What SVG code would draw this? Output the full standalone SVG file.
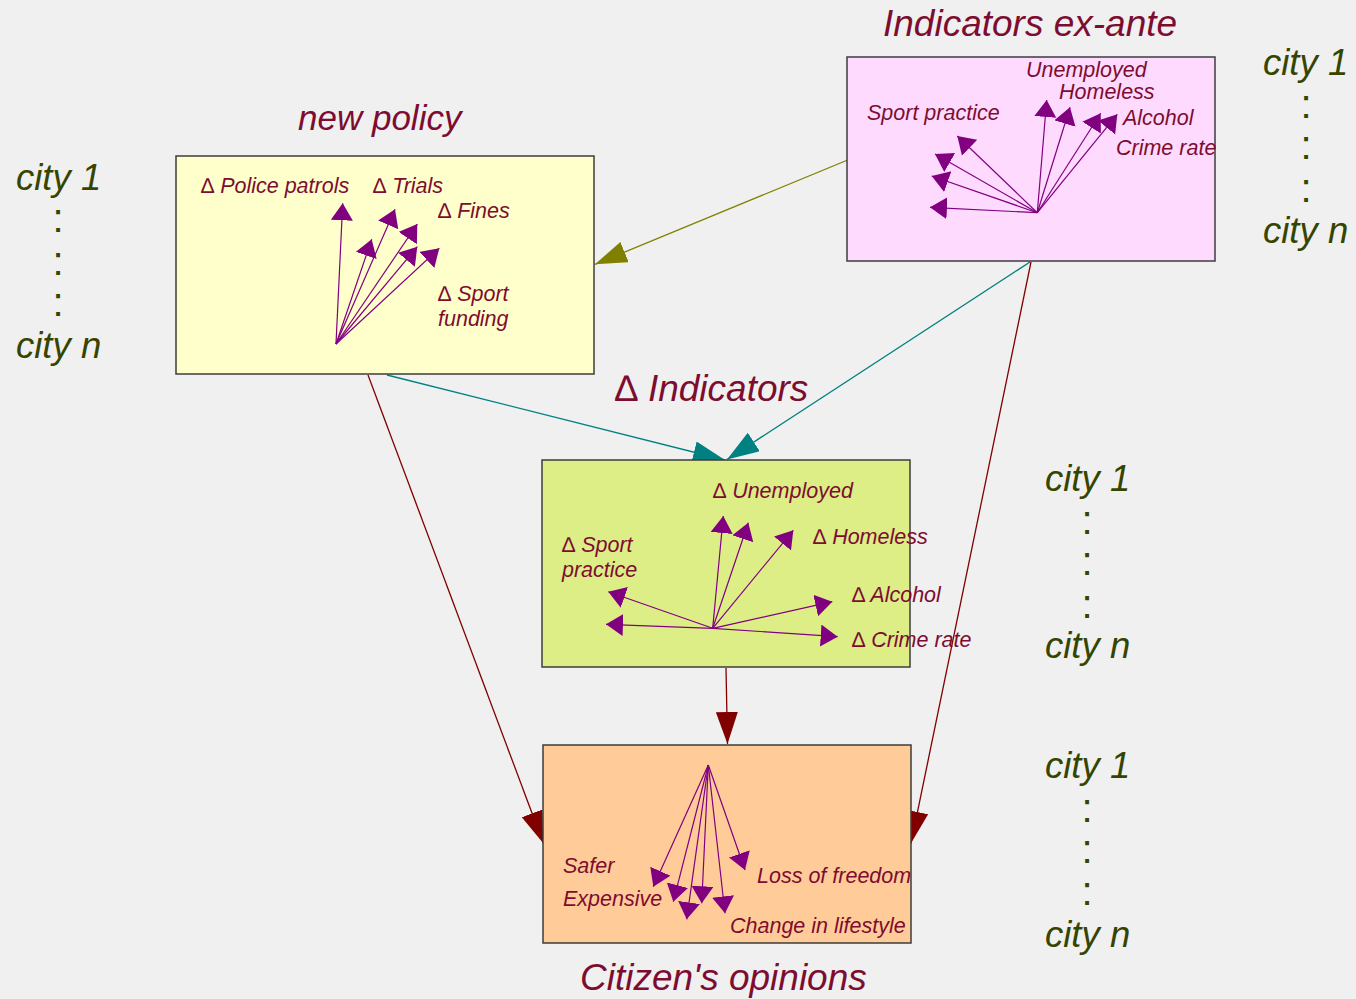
<svg xmlns="http://www.w3.org/2000/svg" width="1356" height="999" viewBox="0 0 1356 999">
<defs>
<style>
.box{stroke:#3c3c3c;stroke-width:1.5}
.title{font-family:"Liberation Sans",Arial,sans-serif;font-style:italic;font-size:37px;fill:#7d0d30}
.lbl{font-family:"Liberation Sans",Arial,sans-serif;font-style:italic;font-size:21.5px;fill:#7d0d30}
.city{font-family:"Liberation Sans",Arial,sans-serif;font-style:italic;font-size:36.5px;fill:#354500}
.dots{font-family:"Liberation Sans",Arial,sans-serif;font-size:40px;fill:#354500}
.up{font-style:normal}
.v{stroke:#800080;stroke-width:1.2;fill:none;marker-end:url(#mp)}
.c{fill:none;stroke-width:1.3}
</style>
<marker id="mp" markerUnits="userSpaceOnUse" markerWidth="20" markerHeight="24" refX="17" refY="11" orient="auto"><path d="M0,0 L17,11 L0,22 z" fill="#800080"/></marker>
<marker id="mo" markerUnits="userSpaceOnUse" markerWidth="34" markerHeight="24" refX="32" refY="11" orient="auto"><path d="M0,0 L32,11 L0,22 z" fill="#808000"/></marker>
<marker id="mt" markerUnits="userSpaceOnUse" markerWidth="34" markerHeight="24" refX="32" refY="11" orient="auto"><path d="M0,0 L32,11 L0,22 z" fill="#008080"/></marker>
<marker id="mr" markerUnits="userSpaceOnUse" markerWidth="34" markerHeight="24" refX="32" refY="11" orient="auto"><path d="M0,0 L32,11 L0,22 z" fill="#800000"/></marker>
</defs>
<rect width="1356" height="999" fill="#f0f0f0"/>

<g id="connectors">
<line class="c" x1="847.7" y1="160" x2="595" y2="264.3" stroke="#808000" marker-end="url(#mo)"/>
<line class="c" x1="387" y1="375" x2="725" y2="460" stroke="#008080" marker-end="url(#mt)"/>
<line class="c" x1="1030" y1="262" x2="727" y2="459.5" stroke="#008080" marker-end="url(#mt)"/>
<line class="c" x1="368" y1="375" x2="543.3" y2="843.3" stroke="#800000" marker-end="url(#mr)"/>
<line class="c" x1="1031" y1="262" x2="911" y2="843.3" stroke="#800000" marker-end="url(#mr)"/>
<line class="c" x1="726" y1="668" x2="727.5" y2="744" stroke="#800000" marker-end="url(#mr)"/>
</g>

<g id="new-policy">
<rect class="box" x="176" y="156" width="418" height="218" fill="#ffffcc"/>
<text class="title" x="298" y="130" style="font-size:35px">new policy</text>
<g>
<line class="v" x1="336" y1="344" x2="342.7" y2="203.3"/>
<line class="v" x1="336" y1="344" x2="395" y2="209.3"/>
<line class="v" x1="336" y1="344" x2="417.3" y2="224"/>
<line class="v" x1="336" y1="344" x2="371.7" y2="239.3"/>
<line class="v" x1="336" y1="344" x2="417.3" y2="246.7"/>
<line class="v" x1="336" y1="344" x2="439.3" y2="248.3"/>
</g>
<text class="lbl" x="201" y="193"><tspan class="up">∆</tspan> Police patrols</text>
<text class="lbl" x="373" y="193"><tspan class="up">∆</tspan> Trials</text>
<text class="lbl" x="438" y="218"><tspan class="up">∆</tspan> Fines</text>
<text class="lbl" x="438" y="301"><tspan class="up">∆</tspan> Sport</text>
<text class="lbl" x="438" y="326">funding</text>
</g>

<g id="ex-ante">
<rect class="box" x="847" y="57" width="368" height="204" fill="#ffdaff"/>
<text class="title" x="883" y="36">Indicators ex-ante</text>
<g>
<line class="v" x1="1037.3" y1="212.7" x2="1046.7" y2="100"/>
<line class="v" x1="1037.3" y1="212.7" x2="1070" y2="107.3"/>
<line class="v" x1="1037.3" y1="212.7" x2="1100.7" y2="113.3"/>
<line class="v" x1="1037.3" y1="212.7" x2="1117.3" y2="114.3"/>
<line class="v" x1="1037.3" y1="212.7" x2="957.3" y2="136"/>
<line class="v" x1="1037.3" y1="212.7" x2="935" y2="154"/>
<line class="v" x1="1037.3" y1="212.7" x2="931.7" y2="176"/>
<line class="v" x1="1037.3" y1="212.7" x2="930" y2="207.3"/>
</g>
<text class="lbl" x="1026" y="77">Unemployed</text>
<text class="lbl" x="1059" y="99">Homeless</text>
<text class="lbl" x="867" y="120">Sport practice</text>
<text class="lbl" x="1123" y="125">Alcohol</text>
<text class="lbl" x="1116" y="155">Crime rate</text>
</g>

<g id="delta-indicators">
<rect class="box" x="542" y="460" width="368" height="207" fill="#ddee87"/>
<text class="title" x="615" y="401"><tspan class="up">∆</tspan> Indicators</text>
<g>
<line class="v" x1="712.7" y1="628.3" x2="723.3" y2="516"/>
<line class="v" x1="712.7" y1="628.3" x2="748.3" y2="522.7"/>
<line class="v" x1="712.7" y1="628.3" x2="793.3" y2="530.3"/>
<line class="v" x1="712.7" y1="628.3" x2="832.3" y2="601.7"/>
<line class="v" x1="712.7" y1="628.3" x2="837.7" y2="636.7"/>
<line class="v" x1="712.7" y1="628.3" x2="608.3" y2="591.7"/>
<line class="v" x1="712.7" y1="628.3" x2="606" y2="624.3"/>
</g>
<text class="lbl" x="713" y="498"><tspan class="up">∆</tspan> Unemployed</text>
<text class="lbl" x="813" y="544"><tspan class="up">∆</tspan> Homeless</text>
<text class="lbl" x="562" y="552"><tspan class="up">∆</tspan> Sport</text>
<text class="lbl" x="562" y="577">practice</text>
<text class="lbl" x="852" y="602"><tspan class="up">∆</tspan> Alcohol</text>
<text class="lbl" x="852" y="647"><tspan class="up">∆</tspan> Crime rate</text>
</g>

<g id="citizen-opinions">
<rect class="box" x="543" y="745" width="368" height="198" fill="#ffcc99"/>
<text class="title" x="580" y="990">Citizen's opinions</text>
<g>
<line class="v" x1="708.3" y1="765" x2="653.3" y2="886.7"/>
<line class="v" x1="708.3" y1="765" x2="673.3" y2="901.7"/>
<line class="v" x1="708.3" y1="765" x2="686.7" y2="919.3"/>
<line class="v" x1="708.3" y1="765" x2="701.7" y2="903.3"/>
<line class="v" x1="708.3" y1="765" x2="725" y2="913.3"/>
<line class="v" x1="708.3" y1="765" x2="745" y2="870"/>
</g>
<text class="lbl" x="563" y="873">Safer</text>
<text class="lbl" x="563" y="906">Expensive</text>
<text class="lbl" x="757" y="883">Loss of freedom</text>
<text class="lbl" x="730" y="933">Change in lifestyle</text>
</g>

<g id="cities-left">
<text class="city" x="16" y="190">city 1</text>
<text class="dots" x="58" y="232" text-anchor="middle">:</text>
<text class="dots" x="58" y="275" text-anchor="middle">:</text>
<text class="dots" x="58" y="316" text-anchor="middle">:</text>
<text class="city" x="16" y="358">city n</text>
</g>
<g id="cities-top-right">
<text class="city" x="1263" y="75">city 1</text>
<text class="dots" x="1306" y="118" text-anchor="middle">:</text>
<text class="dots" x="1306" y="159" text-anchor="middle">:</text>
<text class="dots" x="1306" y="202" text-anchor="middle">:</text>
<text class="city" x="1263" y="243">city n</text>
</g>
<g id="cities-mid-right">
<text class="city" x="1045" y="491">city 1</text>
<text class="dots" x="1087" y="534" text-anchor="middle">:</text>
<text class="dots" x="1087" y="575" text-anchor="middle">:</text>
<text class="dots" x="1087" y="618" text-anchor="middle">:</text>
<text class="city" x="1045" y="658">city n</text>
</g>
<g id="cities-bottom-right">
<text class="city" x="1045" y="778">city 1</text>
<text class="dots" x="1087" y="822" text-anchor="middle">:</text>
<text class="dots" x="1087" y="863" text-anchor="middle">:</text>
<text class="dots" x="1087" y="905" text-anchor="middle">:</text>
<text class="city" x="1045" y="947">city n</text>
</g>
</svg>
